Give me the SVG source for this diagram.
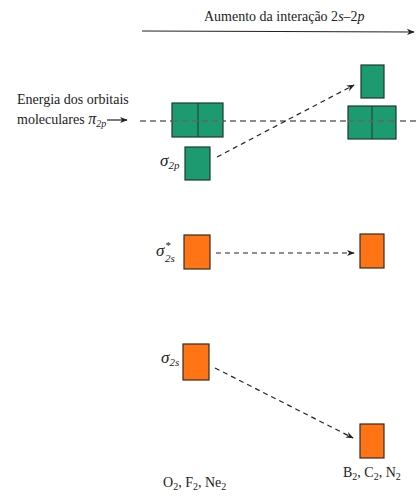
<svg xmlns="http://www.w3.org/2000/svg" width="420" height="502" viewBox="0 0 420 502">
  <style>
    text { font-family: "Liberation Serif", "DejaVu Serif", serif; fill: #222; font-size: 14px; }
    .sub { font-size: 10px; }
    .it { font-style: italic; }
    .sg { font-size: 17px; font-style: italic; }
    .sg .sub, .sgs { font-size: 11px; font-style: italic; }
    .pi { fill: #1c9b70; stroke: #1e3a2e; stroke-width: 1.2; }
    .sig { fill: #ff7414; stroke: #3a2a1e; stroke-width: 1.2; }
    .div { stroke: #1e3a2e; stroke-width: 1; }
    .level { stroke: #666; stroke-width: 1.6; stroke-dasharray: 6 4; fill: none; }
    .conn { stroke: #222; stroke-width: 1.2; stroke-dasharray: 5 4; fill: none; }
  </style>
  <defs>
    <marker id="ah" viewBox="0 0 10 10" refX="9" refY="5" markerWidth="8" markerHeight="8" markerUnits="userSpaceOnUse" orient="auto">
      <path d="M0,1 L10,5 L0,9 L3,5 Z" fill="#222"/>
    </marker>
  </defs>
  <rect width="420" height="502" fill="#fff"/>

  <!-- trend axis -->
  <g id="axis">
    <line x1="142" y1="31" x2="414" y2="32" stroke="#222" stroke-width="1.1" marker-end="url(#ah)"/>
    <text x="204" y="21" font-size="14.5">Aumento da interação 2<tspan class="it">s</tspan>–2<tspan class="it">p</tspan></text>
  </g>

  <!-- energy label for the pi(2p) level -->
  <g id="pi-label">
    <text x="17" y="104">Energia dos orbitais</text>
    <text x="17" y="124">moleculares <tspan class="it" font-size="16">π</tspan><tspan class="sub it" dy="3">2p</tspan></text>
    <line x1="107" y1="120" x2="127" y2="120" stroke="#222" stroke-width="1.2" marker-end="url(#ah)"/>
  </g>

  <!-- connectors -->
  <g id="connectors">
    <line class="level" x1="140" y1="121" x2="420" y2="121"/>
    <line class="conn" x1="217" y1="157" x2="354" y2="85" marker-end="url(#ah)"/>
    <line class="conn" x1="216" y1="253" x2="354" y2="253" marker-end="url(#ah)"/>
    <line class="conn" x1="215" y1="368" x2="353" y2="438" marker-end="url(#ah)"/>
  </g>

  <!-- left column: O2, F2, Ne2 -->
  <g id="pi2p-left">
    <rect class="pi" x="172" y="103" width="51" height="34"/>
    <line class="div" x1="198" y1="103" x2="198" y2="137"/>
    <line class="level" x1="172" y1="121" x2="223" y2="121"/>
  </g>
  <g id="sigma2p-left">
    <rect class="pi" x="185" y="147" width="25" height="33"/>
    <text x="160" y="166" class="sg">σ<tspan class="sub" dy="3">2p</tspan></text>
  </g>
  <g id="sigma2s-star-left">
    <rect class="sig" x="184" y="235" width="26" height="34"/>
    <text x="156" y="256" class="sg">σ</text>
    <text x="165" y="249" class="sgs">*</text>
    <text x="165" y="262" class="sgs">2s</text>
  </g>
  <g id="sigma2s-left">
    <rect class="sig" x="183" y="344" width="26" height="36"/>
    <text x="161" y="363" class="sg">σ<tspan class="sub" dy="3">2s</tspan></text>
  </g>
  <g id="label-left">
    <text x="163" y="487">O<tspan class="sub" dy="3">2</tspan><tspan dy="-3">, F</tspan><tspan class="sub" dy="3">2</tspan><tspan dy="-3">, Ne</tspan><tspan class="sub" dy="3">2</tspan></text>
  </g>

  <!-- right column: B2, C2, N2 -->
  <g id="sigma2p-right">
    <rect class="pi" x="361" y="65" width="23" height="33"/>
  </g>
  <g id="pi2p-right">
    <rect class="pi" x="348" y="106" width="48" height="33"/>
    <line class="div" x1="372" y1="106" x2="372" y2="139"/>
    <line class="level" x1="348" y1="121" x2="396" y2="121"/>
  </g>
  <g id="sigma2s-star-right">
    <rect class="sig" x="360" y="234" width="24" height="34"/>
  </g>
  <g id="sigma2s-right">
    <rect class="sig" x="360" y="424" width="24" height="34"/>
  </g>
  <g id="label-right">
    <text x="343" y="477">B<tspan class="sub" dy="3">2</tspan><tspan dy="-3">, C</tspan><tspan class="sub" dy="3">2</tspan><tspan dy="-3">, N</tspan><tspan class="sub" dy="3">2</tspan></text>
  </g>
</svg>
